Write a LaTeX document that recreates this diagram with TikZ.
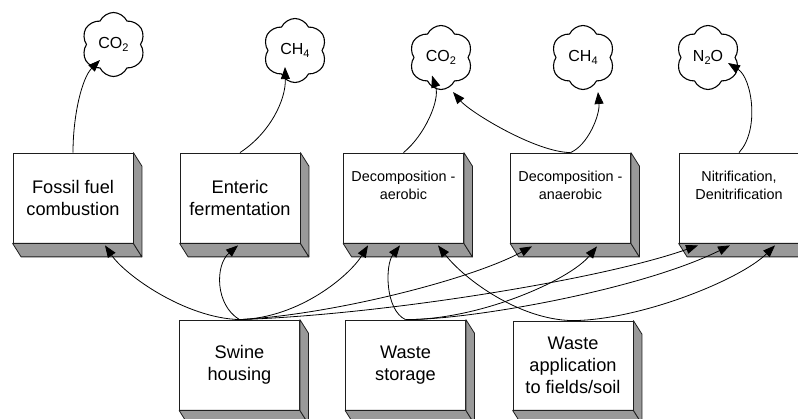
\documentclass[tikz,border=0pt]{standalone}
\usepackage{fontspec}
\setmainfont{Liberation Sans}
\usetikzlibrary{shapes.symbols,arrows.meta,calc}
\definecolor{facegray}{RGB}{153,153,153}
\definecolor{edgecol}{RGB}{30,30,30}
\tikzset{
 frontbox/.style={draw=edgecol, line width=0.8pt, fill=white, minimum width=120pt, minimum height=90pt, inner sep=0pt, align=center},
 bigtext/.style={font=\fontsize{18.2}{22}\selectfont},
 smalltext/.style={font=\fontsize{14.4}{17.5}\selectfont},
 facestyle/.style={fill=facegray, draw=edgecol, line width=0.8pt, line join=round},
 gas/.style={cloud, cloud puffs=6, cloud puff arc=130, aspect=1, draw=black, line width=1.1pt, fill=white, minimum width=64pt, minimum height=64pt, inner sep=0pt, font=\fontsize{16}{18}\selectfont},
 conn/.style={draw=black, line width=0.8pt, -{Triangle[length=12pt,width=9pt]}},
}
\newcommand\depthfaces[1]{%
 \path[facestyle] (#1.south west) -- (#1.south east) -- ++(8.5,13.5) -- ($(#1.south west)+(8.5,13.5)$) -- cycle;
 \path[facestyle] (#1.north east) -- ++(8.5,13.5) -- ($(#1.south east)+(8.5,13.5)$) -- (#1.south east) -- cycle;
}
\newcommand\lowsub[1]{\raisebox{-0.45ex}{\fontsize{11}{11}\selectfont #1}}
\begin{document}
\begin{tikzpicture}[x=1pt,y=-1pt]
\path[use as bounding box] (0,0) rectangle (798,419);
\clip (0,0) rectangle (798,419);

% top row boxes
\node[frontbox,bigtext] (fossil) at (73,198) {Fossil fuel\\combustion};
\depthfaces{fossil}
\node[frontbox,bigtext] (enteric) at (240,198) {Enteric\\fermentation};
\depthfaces{enteric}
\node[frontbox,smalltext] (aer) at (403.5,198) {Decomposition -\\aerobic\\[8pt]};
\depthfaces{aer}
\node[frontbox,smalltext] (anaer) at (570.5,198) {Decomposition -\\anaerobic\\[8pt]};
\depthfaces{anaer}
\node[frontbox,smalltext] (nitr) at (739,198) {Nitrification,\\Denitrification\\[8pt]};
\depthfaces{nitr}

% bottom row boxes
\node[frontbox,bigtext] (swine) at (239.5,365) {Swine\\housing};
\depthfaces{swine}
\node[frontbox,bigtext] (storage) at (405.5,365) {Waste\\storage};
\depthfaces{storage}
\node[frontbox,bigtext,minimum height=89pt] (appl) at (573,365.5) {Waste\\application\\to fields/soil};
\depthfaces{appl}

% clouds
\node[gas] (co2a) at (113.5,44.5) {CO\lowsub{2}};
\node[gas] (ch4a) at (295,50.5) {CH\lowsub{4}};
\node[gas] (co2b) at (441,57.5) {CO\lowsub{2}};
\node[gas] (ch4b) at (583,57.5) {CH\lowsub{4}};
\node[gas] (n2o) at (708,57.5) {N\lowsub{2}O};

% upward connectors to gases
\draw[conn] (fossil.north) .. controls (73,115) and (82,78) .. ($(co2a.center)+(-13.5,15.5)$);
\draw[conn] (enteric.north) .. controls (270,133) and (286,100) .. ($(ch4a.center)+(-10,16.5)$);
\draw[conn] (aer.north) .. controls (425,135) and (440,100) .. ($(co2b.center)+(-9,18)$);
\draw[conn] (anaer.north) .. controls (535,152) and (470,112) .. ($(co2b.center)+(12,34.5)$);
\draw[conn] (anaer.north) .. controls (588,145) and (600,115) .. ($(ch4b.center)+(15,34.5)$);
\draw[conn] (nitr.north) .. controls (760,130) and (752,78) .. ($(n2o.center)+(20,5.5)$);

% connectors from sources
\draw[conn] (swine.north) .. controls (185,318) and (125,275) .. ($(fossil.south)+(32,2)$);
\draw[conn] (swine.north) .. controls (215,305) and (215,265) .. ($(enteric.south)+(-2,2)$);
\draw[conn] (swine.north) .. controls (300,318) and (350,275) .. ($(aer.south)+(-35.5,2)$);
\draw[conn] (swine.north) .. controls (330,315) and (470,280) .. ($(anaer.south)+(-38.5,3)$);
\draw[conn] (swine.north) .. controls (380,315) and (600,280) .. ($(nitr.south)+(-41,2)$);

\draw[conn] (storage.north) .. controls (385,310) and (385,265) .. ($(aer.south)+(-3.5,2)$);
\draw[conn] (storage.north) .. controls (480,320) and (570,280) .. ($(anaer.south)+(26.5,3)$);
\draw[conn] (storage.north) .. controls (470,320) and (640,290) .. ($(nitr.south)+(-9,2)$);

\draw[conn] (appl.north) .. controls (520,320) and (465,280) .. ($(aer.south)+(34.5,2)$);
\draw[conn] (appl.north) .. controls (640,320) and (740,280) .. ($(nitr.south)+(36,2)$);
\end{tikzpicture}
\end{document}
